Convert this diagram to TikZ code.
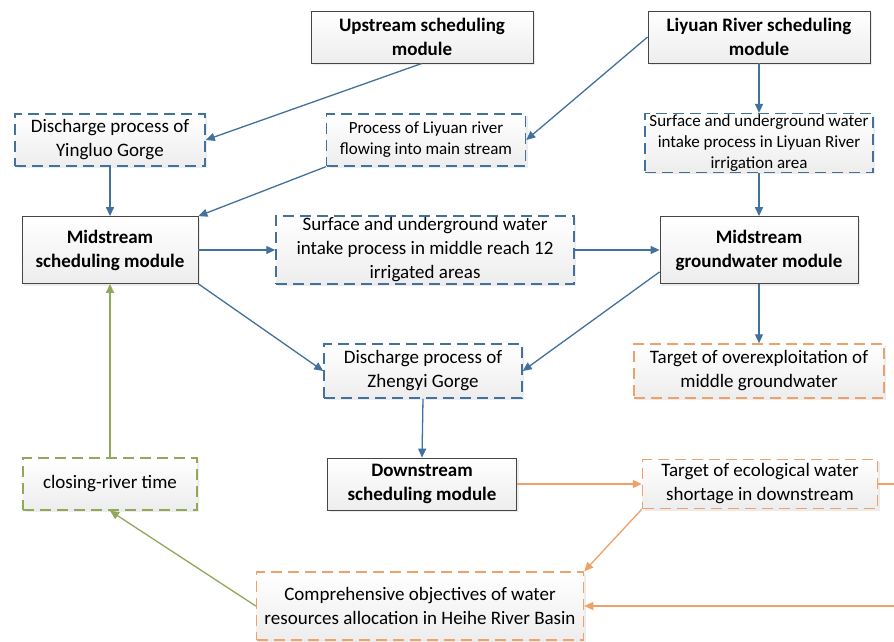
\documentclass[tikz,border=0pt]{standalone}
\usepackage{fontspec}
\setmainfont{Carlito}
\usetikzlibrary{arrows.meta,shadows}

\definecolor{lineblue}{RGB}{65,113,156}
\definecolor{lineorange}{RGB}{240,160,105}
\definecolor{linegreen}{RGB}{145,168,90}

\tikzset{
	basebox/.style={top color=white,bottom color=gray!14,align=center,inner sep=1pt,
		drop shadow={opacity=0.15,shadow xshift=2pt,shadow yshift=-2pt}},
	modbox/.style={basebox,draw=gray!55!black,line width=0.8pt,font=\fontsize{19}{24}\selectfont\bfseries},
	procbox/.style={basebox,draw=lineblue,line width=1.5pt,dash pattern=on 11pt off 6pt,font=\fontsize{19}{24}\selectfont},
	smallproc/.style={procbox,font=\fontsize{17}{21}\selectfont},
	tgtbox/.style={basebox,draw=lineorange,line width=1.5pt,dash pattern=on 11pt off 6pt,font=\fontsize{19}{24}\selectfont},
	timebox/.style={basebox,draw=linegreen,line width=1.5pt,dash pattern=on 11pt off 6pt,font=\fontsize{19}{24}\selectfont},
	bflow/.style={draw=lineblue,line width=1.3pt,-{Triangle[length=9pt,width=8pt]}},
	oflow/.style={draw=lineorange,line width=1.3pt,-{Triangle[length=9pt,width=8pt]}},
	gflow/.style={draw=linegreen,line width=1.3pt,-{Triangle[length=9pt,width=8pt]}}
}

\begin{document}
\begin{tikzpicture}[x=1pt,y=-1pt]
	\clip (0,0) rectangle (894,642);
	\fill[white] (0,0) rectangle (894,642);

	\node[modbox,minimum width=222pt,minimum height=52pt] (up) at (422,37) {Upstream scheduling\\module};
	\node[modbox,minimum width=222pt,minimum height=52pt] (lyr) at (759,37) {Liyuan River scheduling\\module};
	\node[procbox,minimum width=190pt,minimum height=52pt] (yl) at (110,140) {Discharge process of\\Yingluo Gorge};
	\node[smallproc,minimum width=199pt,minimum height=52pt] (flow) at (426,140) {Process of Liyuan river\\flowing into main stream};
	\node[smallproc,minimum width=228pt,minimum height=57pt] (lyirr) at (759,143) {Surface and underground water\\intake process in Liyuan River\\irrigation area};
	\node[modbox,minimum width=176pt,minimum height=67pt] (mid) at (110,250) {Midstream\\scheduling module};
	\node[procbox,minimum width=298pt,minimum height=68pt] (midirr) at (425,250) {Surface and underground water\\intake process in middle reach 12\\irrigated areas};
	\node[modbox,minimum width=198pt,minimum height=67pt] (gw) at (759,250) {Midstream\\groundwater module};
	\node[procbox,minimum width=198pt,minimum height=54pt] (zy) at (423,371) {Discharge process of\\Zhengyi Gorge};
	\node[tgtbox,minimum width=250pt,minimum height=54pt] (over) at (759,371) {Target of overexploitation of\\middle groundwater};
	\node[modbox,minimum width=189pt,minimum height=52pt] (down) at (422,484) {Downstream\\scheduling module};
	\node[tgtbox,minimum width=235pt,minimum height=49pt] (eco) at (760,484) {Target of ecological water\\shortage in downstream};
	\node[timebox,minimum width=174pt,minimum height=52pt] (close) at (110,484) {closing-river time};
	\node[tgtbox,minimum width=327pt,minimum height=68pt] (comp) at (420,606) {Comprehensive objectives of water\\resources allocation in Heihe River Basin};

	\draw[bflow] (up.south) -- (yl.east);
	\draw[bflow] (lyr.west) -- (flow.east);
	\draw[bflow] (lyr.south) -- (lyirr.north);
	\draw[bflow] (yl.south) -- (mid.north);
	\draw[bflow] (flow.south west) -- (mid.north east);
	\draw[bflow] (mid.east) -- (midirr.west);
	\draw[bflow] (midirr.east) -- (gw.west);
	\draw[bflow] (lyirr.south) -- (gw.north);
	\draw[bflow] (mid.south east) -- (zy.west);
	\draw[bflow] (gw.south west) ++(0,-12) -- (zy.east);
	\draw[bflow] (gw.south) -- (over.north);
	\draw[bflow] (zy.south) -- (down.north);

	\draw[oflow] (down.east) -- (eco.west);
	\draw[oflow] (eco.south west) -- (comp.north east);
	\draw[oflow] (eco.east) -- ++(40,0) |- (comp.east);

	\draw[gflow] (comp.west) -- (close.south);
	\draw[gflow] (close.north) -- (mid.south);
\end{tikzpicture}
\end{document}
